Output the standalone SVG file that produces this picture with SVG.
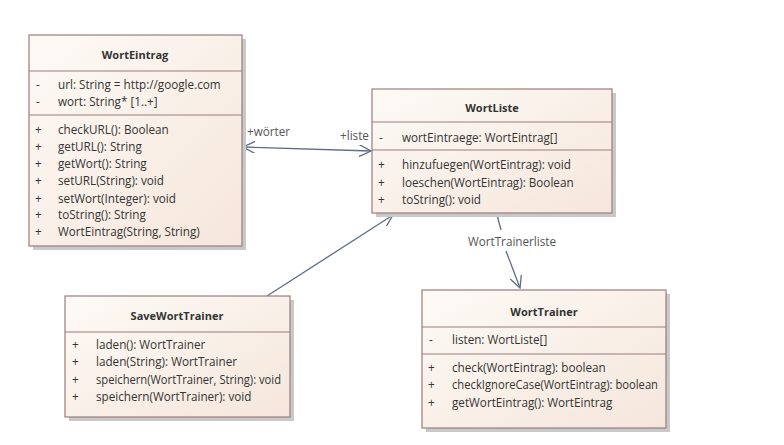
<svg xmlns="http://www.w3.org/2000/svg" width="784" height="445" viewBox="0 0 784 445">
<style>
text{font-family:"Open Sans","Noto Sans","DejaVu Sans",sans-serif;font-size:11.7px;fill:#333}
.t{font-weight:bold;text-anchor:middle;font-size:11px}
.box{fill:url(#g);stroke:#9b7c7c;stroke-width:1.2}
.sh{fill:#c9c9c9}
.sep{stroke:#9b7c7c;stroke-width:1}
.c{stroke:#5f6b87;stroke-width:1.3;fill:none}
.lbl{fill:#555}
</style>
<defs>
<linearGradient id="g" x1="0" y1="0" x2="1" y2="1">
<stop offset="0" stop-color="#fdfaf6"/>
<stop offset="1" stop-color="#f5e6db"/>
</linearGradient>
<marker id="a" markerWidth="14" markerHeight="12" refX="12" refY="6" orient="auto-start-reverse" markerUnits="userSpaceOnUse">
<path d="M0,0 L12,6 L0,12" fill="none" stroke="#5f6b87" stroke-width="1.3"/>
</marker>
</defs>
<rect width="784" height="445" fill="#fff"/>

<g id="connectors">
<line class="c" x1="243" y1="147" x2="371" y2="151" marker-start="url(#a)" marker-end="url(#a)"/>
<text class="lbl" x="247" y="136">+wörter</text>
<text class="lbl" x="340" y="140">+liste</text>
<line class="c" x1="267" y1="296" x2="393" y2="215" marker-end="url(#a)"/>
<line class="c" x1="497" y1="215" x2="501" y2="230"/>
<line class="c" x1="506" y1="251" x2="520" y2="288" marker-end="url(#a)"/>
<text class="lbl" x="512" y="246" text-anchor="middle">WortTrainerliste</text>
</g>

<g id="WortEintrag">
<rect class="sh" x="33" y="39" width="213" height="211"/>
<rect class="box" x="29" y="35" width="213" height="211"/>
<line class="sep" x1="29" y1="71" x2="242" y2="71"/>
<line class="sep" x1="29" y1="115" x2="242" y2="115"/>
<text class="t" x="135" y="59">WortEintrag</text>
<text x="36" y="89">-</text><text x="58" y="89">url: String = http://google.com</text>
<text x="36" y="106">-</text><text x="58" y="106">wort: String* [1..+]</text>
<text x="35" y="134">+</text><text x="58" y="134">checkURL(): Boolean</text>
<text x="35" y="151">+</text><text x="58" y="151">getURL(): String</text>
<text x="35" y="168">+</text><text x="58" y="168">getWort(): String</text>
<text x="35" y="185">+</text><text x="58" y="185">setURL(String): void</text>
<text x="35" y="203">+</text><text x="58" y="203">setWort(Integer): void</text>
<text x="35" y="219">+</text><text x="58" y="219">toString(): String</text>
<text x="35" y="236">+</text><text x="58" y="236">WortEintrag(String, String)</text>
</g>

<g id="WortListe">
<rect class="sh" x="376" y="93" width="240" height="124"/>
<rect class="box" x="372" y="89" width="240" height="124"/>
<line class="sep" x1="372" y1="122" x2="612" y2="122"/>
<line class="sep" x1="372" y1="150" x2="612" y2="150"/>
<text class="t" x="492" y="112">WortListe</text>
<text x="379" y="142">-</text><text x="402" y="142">wortEintraege: WortEintrag[]</text>
<text x="378" y="169">+</text><text x="402" y="169">hinzufuegen(WortEintrag): void</text>
<text x="378" y="187">+</text><text x="402" y="187">loeschen(WortEintrag): Boolean</text>
<text x="378" y="204">+</text><text x="402" y="204">toString(): void</text>
</g>

<g id="SaveWortTrainer">
<rect class="sh" x="69" y="300" width="225" height="121"/>
<rect class="box" x="65" y="296" width="225" height="121"/>
<line class="sep" x1="65" y1="332" x2="290" y2="332"/>
<text class="t" x="177" y="320">SaveWortTrainer</text>
<text x="72" y="349">+</text><text x="96" y="349">laden(): WortTrainer</text>
<text x="72" y="366">+</text><text x="96" y="366">laden(String): WortTrainer</text>
<text x="72" y="384">+</text><text x="96" y="384" textLength="185" lengthAdjust="spacingAndGlyphs">speichern(WortTrainer, String): void</text>
<text x="72" y="401">+</text><text x="96" y="401">speichern(WortTrainer): void</text>
</g>

<g id="WortTrainer">
<rect class="sh" x="426" y="294" width="244" height="138"/>
<rect class="box" x="422" y="290" width="244" height="138"/>
<line class="sep" x1="422" y1="327" x2="666" y2="327"/>
<line class="sep" x1="422" y1="354" x2="666" y2="354"/>
<text class="t" x="544" y="316">WortTrainer</text>
<text x="429" y="344">-</text><text x="452" y="344">listen: WortListe[]</text>
<text x="428" y="372">+</text><text x="452" y="372">check(WortEintrag): boolean</text>
<text x="428" y="389">+</text><text x="452" y="389" textLength="206" lengthAdjust="spacingAndGlyphs">checkIgnoreCase(WortEintrag): boolean</text>
<text x="428" y="407">+</text><text x="452" y="407">getWortEintrag(): WortEintrag</text>
</g>
</svg>
